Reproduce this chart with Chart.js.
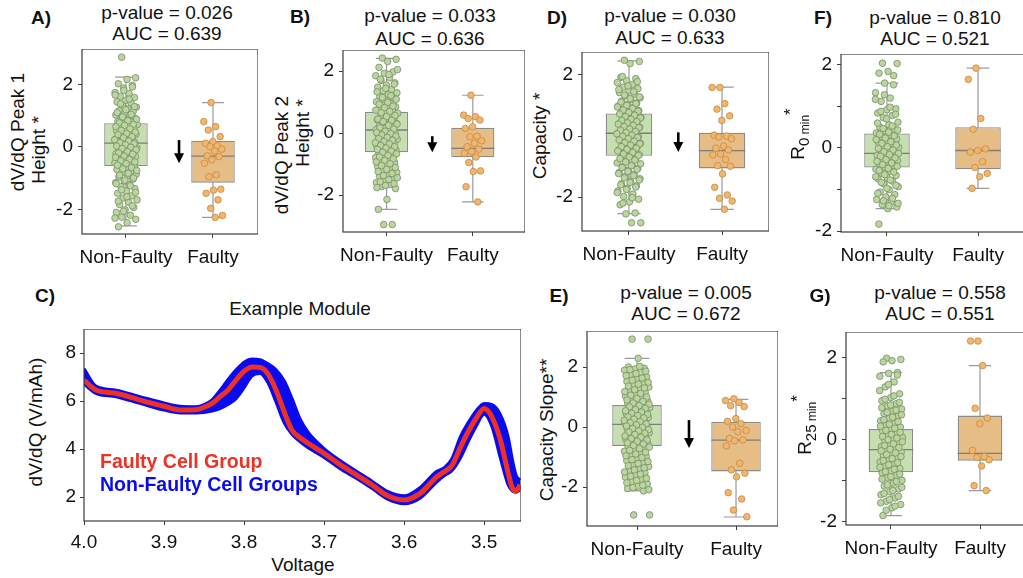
<!DOCTYPE html>
<html>
<head>
<meta charset="utf-8">
<title>Faulty vs non-faulty cell features</title>
<script src="https://cdn.jsdelivr.net/npm/chart.js@4.4.0/dist/chart.umd.min.js"></script>
<style>
  body { margin: 0; width: 1023px; height: 578px; overflow: hidden; background: #fff; position: relative;
         font-family: "Liberation Sans", Arial, sans-serif; color: #111; }
  canvas { position: absolute; }
  .t { position: absolute; font-size: 19px; line-height: 1; white-space: nowrap; transform: translate(-50%, -50%); }
  .b { font-weight: bold; }
  .yt { position: absolute; font-size: 19px; line-height: 1; white-space: nowrap; transform: translate(-50%, -50%) rotate(-90deg); }
  .lg { position: absolute; font-size: 19.5px; font-weight: bold; line-height: 1; white-space: nowrap; transform: translateY(-50%); }
  .s1 { font-size: 15px; position: relative; top: 5px; }
  .s2 { font-size: 12px; position: relative; top: 5px; }
  .sp { font-size: 17px; position: relative; top: -8px; }
</style>
</head>
<body>

<canvas id="chartA" width="206" height="221" style="left:52px;top:49px"></canvas>
<canvas id="chartB" width="212" height="218" style="left:313px;top:50px"></canvas>
<canvas id="chartD" width="217" height="215" style="left:552px;top:52px"></canvas>
<canvas id="chartF" width="213" height="214" style="left:811px;top:54px"></canvas>
<canvas id="chartC" width="459" height="222" style="left:62px;top:329px"></canvas>
<canvas id="chartE" width="221" height="231" style="left:557px;top:331px"></canvas>
<canvas id="chartG" width="208" height="229" style="left:816px;top:332px"></canvas>

<div class="t b" style="left:41px;top:17px">A)</div>
<div class="t" style="left:167px;top:12px">p-value = 0.026</div>
<div class="t" style="left:167px;top:33px">AUC = 0.639</div>
<div class="yt" style="left:17px;top:132px">dV/dQ Peak 1</div>
<div class="yt" style="left:38px;top:150px">Height *</div>

<div class="t b" style="left:300px;top:16px">B)</div>
<div class="t" style="left:430px;top:15px">p-value = 0.033</div>
<div class="t" style="left:430px;top:38px">AUC = 0.636</div>
<div class="yt" style="left:281px;top:155px">dV/dQ Peak 2</div>
<div class="yt" style="left:302px;top:133px">Height *</div>

<div class="t b" style="left:557px;top:17px">D)</div>
<div class="t" style="left:670px;top:15px">p-value = 0.030</div>
<div class="t" style="left:670px;top:37px">AUC = 0.633</div>
<div class="yt" style="left:539px;top:136px">Capacity *</div>

<div class="t b" style="left:823px;top:17px">F)</div>
<div class="t" style="left:935px;top:17px">p-value = 0.810</div>
<div class="t" style="left:935px;top:38px">AUC = 0.521</div>
<div class="yt" style="left:797px;top:134px">R<span class="s1">0</span><span class="s2"> min</span><span class="sp">*</span></div>

<div class="t b" style="left:45px;top:295px">C)</div>
<div class="t" style="left:300px;top:308px">Example Module</div>
<div class="yt" style="left:35px;top:422px">dV/dQ (V/mAh)</div>
<div class="t" style="left:303px;top:564px">Voltage</div>
<div class="lg" style="left:100px;top:462px;color:#ee3124">Faulty Cell Group</div>
<div class="lg" style="left:100px;top:485px;color:#0a0af0">Non-Faulty Cell Groups</div>

<div class="t b" style="left:559px;top:295px">E)</div>
<div class="t" style="left:686px;top:292px">p-value = 0.005</div>
<div class="t" style="left:686px;top:313px">AUC = 0.672</div>
<div class="yt" style="left:546px;top:430px">Capacity Slope**</div>

<div class="t b" style="left:820px;top:295px">G)</div>
<div class="t" style="left:940px;top:292px">p-value = 0.558</div>
<div class="t" style="left:940px;top:313px">AUC = 0.551</div>
<div class="yt" style="left:804px;top:425px">R<span class="s1">25</span><span class="s2"> min</span><span class="sp">*</span></div>

<script>
const groups = ["Non-Faulty", "Faulty"];

// box stats are [lower whisker, q1, median, q3, upper whisker]

// A) dV/dQ peak 1 height
const peak1NonFaulty = [2.87, 2.21, 2.16, 2.02, 1.97, 1.88, 1.74, 1.71, 1.62, 1.58, 1.49, 1.44, 1.41, 1.33, 1.27, 1.22,
  1.16, 1.13, 1.07, 1.02, 0.98, 0.93, 0.91, 0.86, 0.81, 0.79, 0.74, 0.71, 0.67, 0.63, 0.6, 0.55, 0.52, 0.49, 0.45,
  0.41, 0.38, 0.36, 0.31, 0.28, 0.25, 0.21, 0.17, 0.15, 0.12, 0.09, 0.05, 0.02, -0.03, -0.06, -0.1, -0.13, -0.17,
  -0.21, -0.24, -0.27, -0.31, -0.35, -0.38, -0.42, -0.46, -0.51, -0.55, -0.6, -0.63, -0.68, -0.72, -0.77, -0.81,
  -0.87, -0.92, -0.96, -1.03, -1.09, -1.14, -1.2, -1.27, -1.33, -1.41, -1.48, -1.56, -1.63, -1.69, -1.76, -1.84,
  -1.93, -2.01, -2.09, -2.18, -2.24, -2.31, -2.42, -2.55,
  1.92, 1.81, 1.66, 1.53, 1.38, 1.29, 1.19, 1.1, 1.04, 0.96, 0.89, 0.84, 0.77, 0.72, 0.69, 0.65, 0.58, 0.53, 0.47,
  0.43, 0.39, 0.33, 0.29, 0.23, 0.19, 0.14, 0.1, 0.07, 0.03, -0.01, -0.05, -0.09, -0.15, -0.19, -0.23, -0.29, -0.33,
  -0.4, -0.44, -0.48, -0.53, -0.58, -0.66, -0.7, -0.75, -0.84, -0.9, -0.99, -1.06, -1.17, -1.24, -1.37, -1.45,
  -1.59, -1.73, -1.88, -2.05, -2.27];
const peak1Faulty = [1.42, 0.81, 0.65, 0.54, 0.33, 0.17, 0.12, 0.04, 0.01, -0.07, -0.13, -0.28, -0.31, -0.41, -0.52,
  -0.89, -0.95, -1.35, -1.38, -1.48, -1.69, -1.96, -2.19, -2.25];
const peak1NonFaultyBox = [-2.52, -0.61, 0.12, 0.76, 2.23];
const peak1FaultyBox = [-2.25, -1.14, -0.29, 0.20, 1.42];

// B) dV/dQ peak 2 height
const peak2NonFaulty = [2.42, 2.38, 2.31, 2.12, 1.97, 1.93, 1.85, 1.79, 1.7, 1.62, 1.55, 1.48, 1.4, 1.36, 1.3, 1.24,
  1.18, 1.12, 1.06, 1.01, 0.96, 0.9, 0.85, 0.8, 0.76, 0.72, 0.68, 0.64, 0.6, 0.55, 0.51, 0.47, 0.43, 0.39, 0.35,
  0.31, 0.27, 0.23, 0.19, 0.15, 0.11, 0.08, 0.04, 0.0, -0.04, -0.08, -0.12, -0.16, -0.2, -0.25, -0.29, -0.33,
  -0.37, -0.42, -0.46, -0.5, -0.55, -0.6, -0.64, -0.69, -0.74, -0.79, -0.85, -0.9, -0.96, -1.02, -1.08, -1.14,
  -1.2, -1.27, -1.33, -1.4, -1.47, -1.53, -1.6, -1.66, -1.72, -1.79, -2.14, -2.46, -2.95, -2.95,
  2.05, 1.89, 1.74, 1.58, 1.44, 1.33, 1.21, 1.15, 1.09, 0.99, 0.93, 0.87, 0.82, 0.74, 0.7, 0.66, 0.57, 0.53, 0.45,
  0.41, 0.37, 0.29, 0.25, 0.17, 0.13, 0.06, 0.02, -0.02, -0.06, -0.1, -0.14, -0.18, -0.23, -0.27, -0.31, -0.35,
  -0.4, -0.44, -0.48, -0.53, -0.58, -0.62, -0.67, -0.72, -0.77, -0.83, -0.88, -0.93, -0.99, -1.05, -1.11, -1.17,
  -1.24, -1.3, -1.37, -1.44, -1.5, -1.57, -1.63, -1.69, -1.76];
const peak2Faulty = [1.22, 0.58, 0.53, 0.47, 0.42, 0.2, 0.15, -0.10, -0.12, -0.25, -0.33, -0.44, -0.52, -0.60,
  -0.66, -0.77, -0.95, -1.22, -1.24, -1.73, -2.22];
const peak2NonFaultyBox = [-2.46, -0.62, 0.10, 0.69, 2.41];
const peak2FaultyBox = [-2.22, -0.78, -0.49, 0.17, 1.22];

// D) capacity
const capNonFaulty = [2.48, 2.44, 2.37, 1.92, 1.88, 1.81, 1.75, 1.68, 1.6, 1.55, 1.49, 1.42, 1.37, 1.31, 1.25, 1.19,
  1.14, 1.08, 1.03, 0.98, 0.93, 0.88, 0.83, 0.79, 0.74, 0.7, 0.66, 0.61, 0.57, 0.53, 0.49, 0.45, 0.41, 0.37, 0.33,
  0.29, 0.25, 0.21, 0.17, 0.13, 0.09, 0.05, 0.01, -0.03, -0.07, -0.11, -0.15, -0.2, -0.24, -0.28, -0.33, -0.37,
  -0.42, -0.46, -0.51, -0.56, -0.61, -0.66, -0.71, -0.76, -0.82, -0.88, -0.94, -1.0, -1.06, -1.12, -1.19, -1.26,
  -1.33, -1.4, -1.48, -1.56, -1.63, -1.71, -1.8, -1.9, -1.98, -2.07, -2.16, -2.25, -2.52, -2.55, -2.84, -2.84,
  1.95, 1.78, 1.64, 1.52, 1.45, 1.34, 1.28, 1.22, 1.11, 1.06, 1.0, 0.95, 0.9, 0.85, 0.81, 0.77, 0.72, 0.68, 0.63,
  0.59, 0.55, 0.51, 0.47, 0.43, 0.39, 0.35, 0.31, 0.27, 0.23, 0.19, 0.15, 0.11, 0.07, 0.03, -0.01, -0.05, -0.09,
  -0.13, -0.17, -0.22, -0.26, -0.3, -0.35, -0.4, -0.44, -0.49, -0.54, -0.59, -0.64, -0.69, -0.74, -0.79, -0.85,
  -0.91, -0.97, -1.03, -1.09, -1.16, -1.23, -1.3, -1.37, -1.44, -1.52, -1.6, -1.67, -1.75, -1.85, -2.02, -2.2];
const capFaulty = [1.59, 1.59, 1.06, 0.88, 0.66, 0.51, 0.03, 0.0, -0.03, -0.09, -0.33, -0.40, -0.46, -0.59, -0.62,
  -0.77, -0.97, -0.99, -1.24, -1.68, -1.93, -2.04, -2.13, -2.4];
const capNonFaultyBox = [-2.54, -0.65, 0.09, 0.74, 2.46];
const capFaultyBox = [-2.40, -1.06, -0.48, 0.11, 1.60];

// E) capacity slope
const slopeNonFaulty = [2.93, 2.93, 2.29, 2.0, 1.96, 1.93, 1.89, 1.82, 1.75, 1.67, 1.6, 1.52, 1.46, 1.4, 1.33, 1.27,
  1.21, 1.15, 1.09, 1.03, 0.98, 0.93, 0.88, 0.83, 0.78, 0.74, 0.69, 0.65, 0.6, 0.56, 0.52, 0.48, 0.44, 0.4, 0.36,
  0.32, 0.28, 0.24, 0.2, 0.16, 0.12, 0.09, 0.05, 0.01, -0.03, -0.07, -0.11, -0.15, -0.19, -0.23, -0.28, -0.32,
  -0.36, -0.41, -0.46, -0.5, -0.55, -0.6, -0.65, -0.7, -0.75, -0.81, -0.87, -0.93, -0.99, -1.05, -1.12, -1.18,
  -1.25, -1.32, -1.39, -1.46, -1.53, -1.6, -1.67, -1.74, -1.82, -1.9, -1.98, -2.05, -2.13, -2.93, -2.93,
  2.02, 1.91, 1.86, 1.78, 1.71, 1.63, 1.56, 1.49, 1.43, 1.36, 1.3, 1.24, 1.18, 1.12, 1.06, 1.0, 0.95, 0.9, 0.85,
  0.8, 0.76, 0.71, 0.67, 0.62, 0.58, 0.54, 0.5, 0.46, 0.42, 0.38, 0.34, 0.3, 0.26, 0.22, 0.18, 0.14, 0.1, 0.07,
  0.03, -0.01, -0.05, -0.09, -0.13, -0.17, -0.21, -0.25, -0.3, -0.34, -0.39, -0.43, -0.48, -0.53, -0.57, -0.62,
  -0.67, -0.72, -0.78, -0.84, -0.9, -0.96, -1.02, -1.09, -1.15, -1.22, -1.29, -1.36, -1.43, -1.5, -1.57, -1.64,
  -1.71, -1.78, -1.86, -1.94, -2.02, -2.09];
const slopeFaulty = [0.94, 0.88, 0.82, 0.71, 0.68, 0.28, 0.19, 0.11, 0.0, -0.12, -0.16, -0.38, -0.43, -0.46, -0.63,
  -1.21, -1.43, -1.54, -1.66, -2.19, -2.40, -2.77, -2.99];
const slopeNonFaultyBox = [-2.13, -0.63, 0.09, 0.73, 2.29];
const slopeFaultyBox = [-3.00, -1.48, -0.44, 0.17, 0.92];

// F) R0 min
const r0NonFaulty = [2.04, 2.03, 1.84, 1.8, 1.74, 1.56, 1.33, 1.2, 1.12, 0.94, 0.92, 0.84, 0.78, 0.73, 0.62, 0.56,
  0.5, 0.45, 0.41, 0.36, 0.31, 0.27, 0.22, 0.18, 0.13, 0.09, 0.05, 0.01, -0.03, -0.07, -0.11, -0.14, -0.18, -0.22,
  -0.26, -0.3, -0.34, -0.38, -0.42, -0.46, -0.51, -0.56, -0.61, -0.66, -0.71, -0.74, -0.8, -0.86, -0.93, -1.0,
  -1.06, -1.12, -1.18, -1.24, -1.3, -1.36, -1.42, -1.46, -1.83,
  1.52, 1.28, 1.17, 0.98, 0.88, 0.81, 0.7, 0.6, 0.53, 0.47, 0.43, 0.38, 0.33, 0.29, 0.24, 0.2, 0.15, 0.11, 0.07,
  0.03, -0.01, -0.05, -0.09, -0.13, -0.16, -0.2, -0.24, -0.28, -0.32, -0.36, -0.4, -0.44, -0.49, -0.54, -0.58,
  -0.64, -0.69, -0.77, -0.83, -0.9, -0.97, -1.09, -1.21, -1.27, -1.33, -1.39];
const r0Faulty = [1.92, 1.65, 0.71, 0.45, -0.02, -0.06, -0.1, -0.33, -0.47, -0.61, -0.69, -0.97];
const r0NonFaultyBox = [-1.46, -0.47, -0.13, 0.35, 1.56];
const r0FaultyBox = [-0.97, -0.51, -0.06, 0.50, 1.92];

// G) R25 min
const r25NonFaulty = [1.99, 1.96, 1.93, 1.9, 1.64, 1.62, 1.55, 1.41, 1.29, 1.12, 1.03, 0.95, 0.88, 0.82, 0.75, 0.7,
  0.64, 0.58, 0.52, 0.46, 0.41, 0.36, 0.31, 0.26, 0.21, 0.16, 0.11, 0.06, 0.02, -0.03, -0.08, -0.12, -0.17, -0.21,
  -0.25, -0.3, -0.34, -0.39, -0.44, -0.49, -0.54, -0.59, -0.64, -0.7, -0.75, -0.81, -0.87, -0.93, -0.99, -1.06,
  -1.13, -1.2, -1.27, -1.34, -1.42, -1.5, -1.58, -1.66, -1.85,
  1.58, 1.35, 1.2, 1.07, 0.99, 0.91, 0.85, 0.78, 0.72, 0.67, 0.61, 0.55, 0.49, 0.44, 0.38, 0.33, 0.28, 0.23, 0.18,
  0.13, 0.08, 0.04, 0.0, -0.05, -0.1, -0.14, -0.19, -0.23, -0.27, -0.32, -0.36, -0.41, -0.46, -0.51, -0.56, -0.61,
  -0.67, -0.72, -0.78, -0.84, -0.9, -0.96, -1.02, -1.1, -1.16, -1.24, -1.31, -1.38, -1.46, -1.54, -1.62, -1.72];
const r25Faulty = [2.41, 2.41, 1.81, 0.77, 0.53, 0.39, -0.26, -0.41, -0.43, -0.49, -0.64, -1.12, -1.24];
const r25NonFaultyBox = [-1.85, -0.79, -0.24, 0.26, 1.64];
const r25FaultyBox = [-1.24, -0.51, -0.33, 0.59, 1.81];

// C) example module dV/dQ curves
const voltage = [4.0, 3.985, 3.96, 3.93, 3.90, 3.88, 3.86, 3.85, 3.84, 3.83, 3.82, 3.81, 3.80, 3.79, 3.78, 3.77,
  3.76, 3.75, 3.74, 3.73, 3.72, 3.70, 3.68, 3.66, 3.64, 3.62, 3.60, 3.58, 3.56, 3.55, 3.54, 3.53, 3.52, 3.51,
  3.50, 3.49, 3.48, 3.47, 3.465, 3.46, 3.455];
const faultyCurve = [6.87, 6.46, 6.32, 6.04, 5.78, 5.63, 5.64, 5.74, 5.9, 6.18, 6.46, 6.87, 7.24, 7.42, 7.4, 7.12,
  6.45, 5.56, 4.78, 4.47, 4.24, 3.82, 3.35, 2.93, 2.5, 2.04, 1.88, 2.15, 2.82, 3.05, 3.33, 4.05, 4.72, 5.28,
  5.69, 5.32, 4.4, 3.0, 2.38, 2.25, 2.5];
const nonFaultyUpper = [7.35, 6.62, 6.45, 6.18, 5.92, 5.78, 5.76, 5.85, 6.05, 6.45, 6.9, 7.3, 7.62, 7.75, 7.72, 7.55,
  7.3, 6.85, 6.1, 5.25, 4.7, 4.02, 3.52, 3.08, 2.66, 2.22, 2.05, 2.4, 3.05, 3.22, 3.62, 4.5, 5.1, 5.6,
  5.9, 5.85, 5.45, 4.5, 3.6, 2.9, 2.7];
const nonFaultyLower = [6.7, 6.32, 6.18, 5.9, 5.62, 5.5, 5.5, 5.52, 5.58, 5.68, 5.85, 6.1, 6.55, 7.05, 7.15, 6.75,
  5.95, 5.1, 4.6, 4.3, 4.05, 3.65, 3.18, 2.78, 2.35, 1.9, 1.72, 1.95, 2.6, 2.88, 3.1, 3.6, 4.3, 4.95,
  5.45, 4.9, 3.65, 2.5, 2.25, 2.2, 2.3];
const voltageTicks = [4.0, 3.9, 3.8, 3.7, 3.6, 3.5];
const dvdqTicks = [2, 4, 6, 8];

const NF_BOX = "#c6dfb1", F_BOX = "#e5bd85";
const NF_PT = "#b9d79d", F_PT = "#f2b66a";
const AXIS = "#3c3c3c";

Chart.defaults.font.family = '"Liberation Sans", Arial, sans-serif';
Chart.defaults.font.size = 19;
Chart.defaults.color = "#111";

// fixed axis sizes so every plot box lands where the figure has it
const fixWidth = (w) => (s) => { s.width = w; s.paddingTop = 0; s.paddingBottom = 0; };
const fixHeight = (h) => (s) => { s.height = h; s.paddingLeft = 0; s.paddingRight = 0; };

// box around the plot area, like the matplotlib frame
const framePlugin = {
    id: "frame",
    afterDraw(chart) {
        const { ctx, chartArea: a } = chart;
        ctx.save();
        ctx.strokeStyle = AXIS;
        ctx.lineWidth = 1.2;
        ctx.strokeRect(a.left, a.top, a.right - a.left, a.bottom - a.top);
        ctx.restore();
    },
};

// the little "decrease" arrow between the two boxes
const arrowPlugin = {
    id: "downArrow",
    afterDatasetsDraw(chart, args, opts) {
        if (opts.at === undefined) return;
        const { ctx, scales } = chart;
        const px = scales.x.getPixelForValue(opts.at);
        const y1 = scales.y.getPixelForValue(opts.from);
        const y2 = scales.y.getPixelForValue(opts.to);
        ctx.save();
        ctx.strokeStyle = "#000";
        ctx.fillStyle = "#000";
        ctx.lineWidth = 2.6;
        ctx.beginPath();
        ctx.moveTo(px, y1);
        ctx.lineTo(px, y2 - 8);
        ctx.stroke();
        ctx.beginPath();
        ctx.moveTo(px - 5, y2 - 10);
        ctx.lineTo(px + 5, y2 - 10);
        ctx.lineTo(px, y2);
        ctx.closePath();
        ctx.fill();
        ctx.restore();
    },
};

// spread the strip points sideways (deterministic, golden ratio steps)
const jit = (i) => ((i * 0.618034 + 0.31) % 1) - 0.5;

function whiskers(stats) {
    const out = [];
    stats.forEach((b, g) => {
        out.push({ x: g, y: b[0] }, { x: g, y: b[4] }, { x: g, y: null });
        out.push({ x: g - 0.125, y: b[0] }, { x: g + 0.125, y: b[0] }, { x: g, y: null });
        out.push({ x: g - 0.125, y: b[4] }, { x: g + 0.125, y: b[4] }, { x: g, y: null });
    });
    return out;
}

function medians(stats) {
    const out = [];
    stats.forEach((b, g) => out.push({ x: g - 0.25, y: b[2] }, { x: g + 0.25, y: b[2] }, { x: g, y: null }));
    return out;
}

function boxChart(id, nf, f, nfBox, fBox, o) {
    const stats = [nfBox, fBox];
    return new Chart(document.getElementById(id), {
        type: "bar",
        data: {
            datasets: [
                {
                    type: "line",
                    data: whiskers(stats),
                    borderColor: "#9a9a9a",
                    borderWidth: 1.2,
                    pointRadius: 0,
                    spanGaps: false,
                    order: 4,
                },
                {
                    type: "bar",
                    data: stats.map((b, g) => ({ x: g, y: [b[1], b[3]] })),
                    backgroundColor: [NF_BOX, F_BOX],
                    borderColor: "#8c8c8c",
                    borderWidth: 1.3,
                    borderSkipped: false,
                    barPercentage: 0.5,
                    categoryPercentage: 1,
                    order: 3,
                },
                {
                    type: "line",
                    data: medians(stats),
                    borderColor: "#7d7d7d",
                    borderWidth: 1.3,
                    pointRadius: 0,
                    spanGaps: false,
                    order: 2,
                },
                {
                    type: "scatter",
                    data: nf.map((v, i) => ({ x: jit(i) * 0.26, y: v })),
                    backgroundColor: NF_PT,
                    borderColor: "#7b8a6c",
                    borderWidth: 0.8,
                    pointRadius: 3.3,
                    order: 1,
                },
                {
                    type: "scatter",
                    data: f.map((v, i) => ({ x: 1 + jit(i + 5) * 0.22, y: v })),
                    backgroundColor: F_PT,
                    borderColor: "#c08a4c",
                    borderWidth: 0.8,
                    pointRadius: 3.3,
                    order: 1,
                },
            ],
        },
        options: {
            responsive: false,
            devicePixelRatio: 1,
            animation: false,
            events: [],
            layout: { autoPadding: false, padding: 0 },
            plugins: {
                legend: { display: false },
                tooltip: { enabled: false },
                downArrow: o.arrow || {},
            },
            scales: {
                x: {
                    type: "linear",
                    min: -0.505,
                    max: o.xMax,
                    offset: false,
                    afterBuildTicks: (s) => { s.ticks = [{ value: 0 }, { value: 1 }]; },
                    afterFit: fixHeight(36),
                    ticks: { callback: (v) => groups[v], padding: 8, maxRotation: 0, autoSkip: false },
                    grid: { drawOnChartArea: false, tickLength: 4, color: AXIS, offset: false },
                    border: { display: false },
                },
                y: {
                    type: "linear",
                    min: o.yMin,
                    max: o.yMax,
                    afterBuildTicks: (s) => { s.ticks = o.yTicks.map((v) => ({ value: v })); },
                    afterFit: fixWidth(30),
                    ticks: { callback: (v) => (v % 2 === 0 ? String(v) : ""), padding: 5 },
                    grid: { drawOnChartArea: false, tickLength: 4, color: AXIS },
                    border: { display: false },
                },
            },
        },
        plugins: [framePlugin, arrowPlugin],
    });
}

boxChart("chartA", peak1NonFaulty, peak1Faulty, peak1NonFaultyBox, peak1FaultyBox,
    { xMax: 1.517, yMin: -2.78, yMax: 3.13, yTicks: [-2, 0, 2], arrow: { at: 0.61, from: 0.22, to: -0.52 } });
boxChart("chartB", peak2NonFaulty, peak2Faulty, peak2NonFaultyBox, peak2FaultyBox,
    { xMax: 1.605, yMin: -3.19, yMax: 2.68, yTicks: [-2, 0, 2], arrow: { at: 0.53, from: -0.1, to: -0.62 } });
boxChart("chartD", capNonFaulty, capFaulty, capNonFaultyBox, capFaultyBox,
    { xMax: 1.505, yMin: -3.11, yMax: 2.75, yTicks: [-2, 0, 2], arrow: { at: 0.53, from: 0.12, to: -0.52 } });
boxChart("chartE", slopeNonFaulty, slopeFaulty, slopeNonFaultyBox, slopeFaultyBox,
    { xMax: 1.424, yMin: -3.3, yMax: 3.2, yTicks: [-2, 0, 2], arrow: { at: 0.525, from: 0.23, to: -0.7 } });
boxChart("chartF", r0NonFaulty, r0Faulty, r0NonFaultyBox, r0FaultyBox,
    { xMax: 1.505, yMin: -2.02, yMax: 2.26, yTicks: [-2, -1, 0, 1, 2] });
boxChart("chartG", r25NonFaulty, r25Faulty, r25NonFaultyBox, r25FaultyBox,
    { xMax: 1.494, yMin: -2.08, yMax: 2.63, yTicks: [-2, -1, 0, 1, 2] });

// C) dV/dQ vs voltage; the first dataset is drawn on top
const toPts = (ys) => voltage.map((v, i) => ({ x: v, y: ys[i] }));
new Chart(document.getElementById("chartC"), {
    type: "line",
    data: {
        datasets: [
            {
                label: "Faulty Cell Group",
                data: toPts(faultyCurve),
                borderColor: "#ee3124",
                borderWidth: 5,
                pointRadius: 0,
                cubicInterpolationMode: "monotone",
                fill: false,
                order: 0,
            },
            {
                label: "Non-Faulty Cell Groups",
                data: toPts(nonFaultyUpper),
                borderColor: "#0a0af0",
                borderWidth: 3,
                pointRadius: 0,
                cubicInterpolationMode: "monotone",
                fill: false,
                order: 1,
            },
            {
                label: "Non-Faulty Cell Groups (lower)",
                data: toPts(nonFaultyLower),
                borderColor: "#0a0af0",
                backgroundColor: "#0a0af0",
                borderWidth: 3,
                pointRadius: 0,
                cubicInterpolationMode: "monotone",
                fill: "-1",
                order: 1,
            },
        ],
    },
    options: {
        responsive: false,
        devicePixelRatio: 1,
        animation: false,
        events: [],
        layout: { autoPadding: false, padding: 0 },
        plugins: { legend: { display: false }, tooltip: { enabled: false } },
        scales: {
            x: {
                type: "linear",
                reverse: true,
                min: 3.454,
                max: 4.0,
                afterBuildTicks: (s) => { s.ticks = voltageTicks.map((v) => ({ value: v })); },
                afterFit: fixHeight(30),
                ticks: { callback: (v) => v.toFixed(1), padding: 6, maxRotation: 0, autoSkip: false },
                grid: { drawOnChartArea: false, tickLength: 4, color: AXIS },
                border: { display: false },
            },
            y: {
                type: "linear",
                min: 1,
                max: 9,
                afterBuildTicks: (s) => { s.ticks = dvdqTicks.map((v) => ({ value: v })); },
                afterFit: fixWidth(22),
                ticks: { padding: 4 },
                grid: { drawOnChartArea: false, tickLength: 4, color: AXIS },
                border: { display: false },
            },
        },
    },
    plugins: [framePlugin],
});
</script>
</body>
</html>
